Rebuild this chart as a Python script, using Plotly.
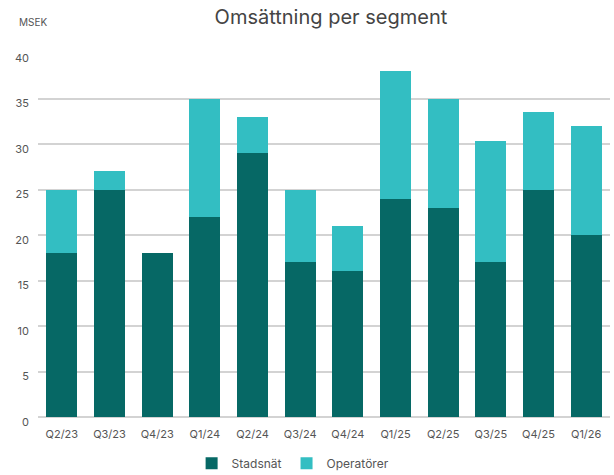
import plotly.graph_objects as go

categories = ["Q2/23", "Q3/23", "Q4/23", "Q1/24", "Q2/24", "Q3/24", "Q4/24",
              "Q1/25", "Q2/25", "Q3/25", "Q4/25", "Q1/26"]
stadsnat = [18, 25, 18, 22, 29, 17, 16, 24, 23, 17, 25, 20]
operatorer = [7, 2, 0, 13, 4, 8, 5, 14, 12, 13.3, 8.5, 12]
y_ticks = [0, 5, 10, 15, 20, 25, 30, 35, 40]

FONT = "Inter, Roboto, sans-serif"

fig = go.Figure()
fig.add_trace(go.Bar(x=categories, y=stadsnat, name="Stadsnät",
                     marker=dict(color="#066865", line=dict(width=0))))
fig.add_trace(go.Bar(x=categories, y=operatorer, name="Operatörer",
                     marker=dict(color="#33BEC2", line=dict(width=0))))

fig.update_layout(
    barmode="stack",
    bargap=0.35,
    width=614, height=475,
    margin=dict(l=38, r=4, t=53, b=58, autoexpand=False),
    plot_bgcolor="white", paper_bgcolor="white",
    font=dict(family=FONT, color="#555555", size=11),
    title=dict(text="Omsättning per segment", x=0.539, xanchor="center",
               y=0.965, yanchor="middle",
               font=dict(family=FONT, size=20, color="#444444")),
    showlegend=True,
    legend=dict(orientation="h", x=0.446, xanchor="center", yref="container",
                y=0.025, yanchor="middle",
                font=dict(size=12, color="#555555"), traceorder="normal",
                itemwidth=30),
    xaxis=dict(showgrid=False, showline=False, ticks="", ticklabelstandoff=9,
               tickfont=dict(size=11, color="#555555")),
    yaxis=dict(range=[0, 40], tickvals=y_ticks, showgrid=True, gridcolor="#d3d3d3",
               gridwidth=2, zeroline=True, zerolinecolor="#d3d3d3", zerolinewidth=2,
               ticks="", ticklabelstandoff=8, ticklabelshift=5,
               tickfont=dict(size=11, color="#555555")),
    annotations=[dict(text="MSEK", xref="paper", yref="paper", x=-0.036, xanchor="left",
                      y=1.0, yshift=31, yanchor="middle", showarrow=False,
                      font=dict(size=10, color="#555555"))],
)

fig.write_html("out.html", config={"displayModeBar": False},
               post_script="document.body.style.margin='0';document.body.style.overflow='hidden';")
